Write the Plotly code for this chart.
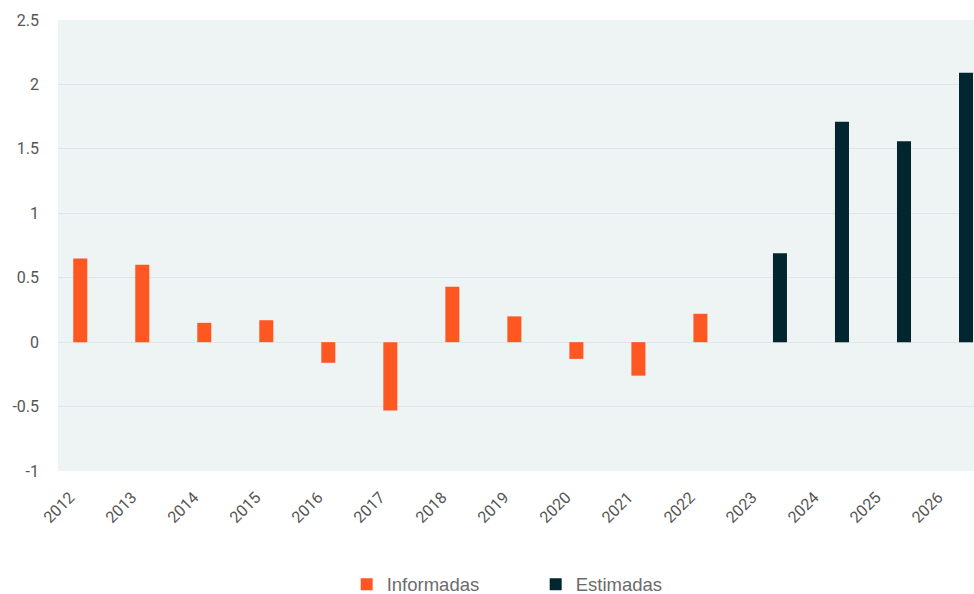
import plotly.graph_objects as go

years = [str(y) for y in range(2012, 2027)]
inf_years = years[:11]
inf_vals = [0.65, 0.60, 0.15, 0.17, -0.16, -0.53, 0.43, 0.20, -0.13, -0.26, 0.22]
est_years = years[11:]
est_vals = [0.69, 1.71, 1.56, 2.09]

fig = go.Figure()
fig.add_trace(go.Bar(x=inf_years, y=inf_vals, name="Informadas", offsetgroup="a",
                     marker=dict(color="#FF5722", line=dict(width=0))))
fig.add_trace(go.Bar(x=est_years, y=est_vals, name="Estimadas", offsetgroup="b",
                     marker=dict(color="#01262F", line=dict(width=0))))

fig.update_layout(
    width=974, height=594,
    margin=dict(l=58, r=0, t=20, b=123, autoexpand=False),
    paper_bgcolor="white",
    plot_bgcolor="#EEF3F4",
    barmode="group",
    bargap=0.435,
    bargroupgap=0.2,
    font=dict(family="Roboto", color="#555555"),
    legend=dict(orientation="h", x=0.5215, xanchor="center", y=-0.252, yanchor="middle",
                font=dict(family="Liberation Sans", size=18.5, color="#6b6b6b"),
                entrywidth=144, itemclick=False),
    showlegend=True,
)
fig.update_xaxes(type="category", categoryorder="array", categoryarray=years,
                 range=[-0.5, 14.27], tickangle=-45, automargin=False,
                 tickfont=dict(size=16, color="#555555"),
                 showgrid=False, zeroline=False, showline=False,
                 ticklabelshift=-19, ticklabelstandoff=13)
fig.update_yaxes(range=[-1, 2.5], tickvals=[-1, -0.5, 0, 0.5, 1, 1.5, 2, 2.5],
                 ticktext=["-1", "-0.5", "0", "0.5", "1", "1.5", "2", "2.5"],
                 automargin=False,
                 showgrid=True, gridcolor="#E0E5E7", gridwidth=1,
                 zeroline=True, zerolinecolor="#E0E5E7", zerolinewidth=1,
                 showline=False, tickfont=dict(size=16, color="#555555"),
                 ticklabelstandoff=18)

fig.write_html("out.html")
